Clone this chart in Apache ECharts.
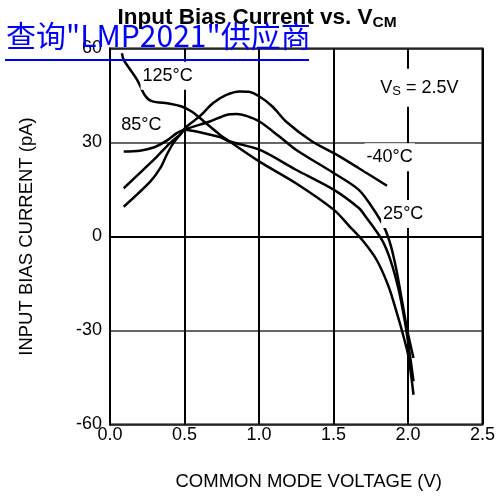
<!DOCTYPE html>
<html><head><meta charset="utf-8">
<script src="https://cdn.jsdelivr.net/npm/echarts@6/dist/echarts.min.js"></script>
<style>html,body{margin:0;padding:0;background:#fff}#c{width:498px;height:497px}</style>
</head><body><div id="c"></div>
<script>
// ---- data (V, pA) ----
const xTicks = [0, 0.5, 1.0, 1.5, 2.0, 2.5];
const yTicks = [-60, -30, 0, 30, 60];
const t125 = [[0.08,58.5],[0.092,56.4],[0.181,50.1],[0.235,45.0],[0.28,43.2],[0.403,42.4],[0.481,41.5],[0.548,39.9],[0.603,37.8],[0.737,32.5],[0.803,30.3],[1.003,23.9],[1.248,17.0],[1.503,8.5],[1.603,3.5],[1.70,-1.5],[1.79,-7.5],[1.87,-16],[1.925,-24.4],[1.97,-31.9],[2.003,-38.3],[2.037,-50.5]];
const t85 = [[0.092,27.1],[0.2,27.4],[0.292,28.4],[0.381,30.6],[0.448,33.0],[0.503,34.1],[0.581,33.5],[0.737,31.7],[0.803,30.3],[1.003,27.7],[1.248,21.3],[1.503,14.9],[1.67,9.1],[1.715,6.4],[1.825,-1.1],[1.881,-7.4],[1.937,-16.9],[1.977,-26.6],[2.003,-34.5],[2.037,-46.2]];
const t25 = [[0.092,15.4],[0.27,23.4],[0.337,26.6],[0.403,29.8],[0.47,32.5],[0.503,34.1],[0.67,36.7],[0.781,38.8],[0.85,39.1],[0.915,38.5],[1.003,36.7],[1.137,31.9],[1.248,27.7],[1.503,20.2],[1.67,14.9],[1.757,9.5],[1.84,3.0],[1.885,-3.0],[1.922,-10.6],[1.958,-20.0],[1.995,-29.8],[2.037,-38.8]];
const tm40 = [[0.092,9.5],[0.27,17.5],[0.337,21.8],[0.381,26.1],[0.425,29.8],[0.47,32.5],[0.503,34.6],[0.603,38.4],[0.692,42.6],[0.781,45.2],[0.87,46.3],[0.93,46.2],[1.003,44.7],[1.09,41.5],[1.181,36.7],[1.357,30.3],[1.503,26.6],[1.67,21.8],[1.859,16.2]];
const seriesNames = ['125°C','85°C','25°C','-40°C'];
// annotation anchors (data units)
const notes = [
  {text:'125°C', at:[0.387,51.3], pad:[5,2]},
  {text:'85°C', at:[0.21,35.7], pad:[2,2]},
  {text:'V{s|S} = 2.5V', at:[2.077,47.5], pad:[9,2]},
  {text:'-40°C', at:[1.877,25.3], pad:[5,2]},
  {text:'25°C', at:[1.968,7.2], pad:[5,2]}
];
const FONT = '"Liberation Sans", Arial, Helvetica, sans-serif';
const chart = echarts.init(document.getElementById('c'), null, {renderer:'canvas'});
const lineStyle = {color:'#000', width:2.5};
const curves = [t125, t85, t25, tm40].map((d,i)=>({
  name: seriesNames[i], type:'line', data:d, smooth:0.3, showSymbol:false, symbol:'none',
  lineStyle: lineStyle, z:3, silent:true
}));
const baseGraphic = [
  {type:'text', left:6, top:21, z:100, style:{text:'查询"LMP2021"供应商', fill:'#0000ff', font:'30px "Noto Sans CJK SC", sans-serif'}},
  {type:'rect', left:5, top:59, z:100, shape:{width:304, height:2}, style:{fill:'#0000ff'}}
];
chart.setOption({
  animation:false,
  backgroundColor:'#fff',
  title:{
    text:'Input Bias Current vs. V{sub|CM}', left:252, top:0, textAlign:'center',
    textStyle:{fontSize:22.5, fontWeight:'bold', color:'#000', fontFamily:FONT,
      rich:{sub:{fontSize:15.5, fontWeight:'bold', color:'#000', fontFamily:FONT, padding:[10,0,0,0]}}}
  },
  grid:{left:110, right:14, top:48.5, bottom:72.5, show:true, borderColor:'#000', borderWidth:2, backgroundColor:'transparent'},
  xAxis:{
    type:'value', min:0, max:2.5, interval:0.5,
    name:'COMMON MODE VOLTAGE (V)', nameLocation:'middle', nameGap:48,
    nameTextStyle:{fontSize:18.5, color:'#000', fontFamily:FONT, padding:[0,0,0,25]},
    axisLine:{show:true, lineStyle:{color:'#000', width:2}},
    axisTick:{show:false},
    axisLabel:{color:'#000', fontSize:18, fontFamily:FONT, margin:2, formatter:v=>v.toFixed(1)},
    splitLine:{show:true, lineStyle:{color:'#000', width:2}}
  },
  yAxis:{
    type:'value', min:-60, max:60, interval:30,
    name:'INPUT BIAS CURRENT (pA)', nameLocation:'middle', nameGap:74,
    nameTextStyle:{fontSize:18.5, color:'#000', fontFamily:FONT},
    axisLine:{show:true, lineStyle:{color:'#000', width:2}},
    axisTick:{show:false},
    axisLabel:{color:'#000', fontSize:18, fontFamily:FONT, margin:8},
    splitLine:{show:true, lineStyle:{color:'#333', width:1.5}}
  },
  series: curves,
  graphic: baseGraphic
});
// place annotations through the chart's own coordinate system
const noteGraphics = notes.map(n=>{
  const p = chart.convertToPixel({gridIndex:0}, n.at);
  return {type:'text', x:p[0], y:p[1], z:50, style:{
    text:n.text, fill:'#000', font:'18px ' + FONT, align:'center', verticalAlign:'middle',
    backgroundColor:'#fff', padding:n.pad,
    rich:{s:{fontSize:13, fontFamily:FONT, fill:'#000', padding:[7,0,0,0]}}
  }};
});
chart.setOption({graphic: baseGraphic.concat(noteGraphics)}, {replaceMerge:['graphic']});
</script></body></html>
